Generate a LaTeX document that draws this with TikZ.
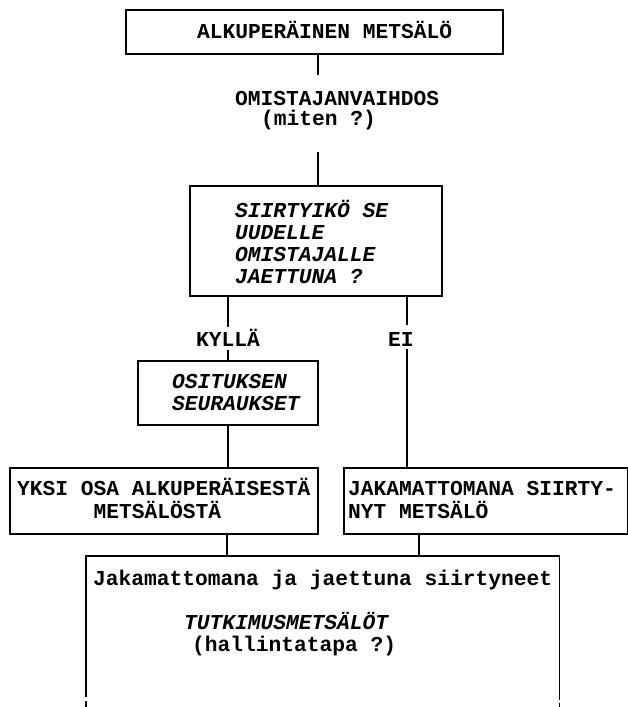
\documentclass[tikz,border=0pt]{standalone}
\usepackage{fontspec}
\usetikzlibrary{calc}
\newfontfamily\courfam{Liberation Mono}
\newcommand\mytw{\fontsize{21.25pt}{22pt}\selectfont\courfam\bfseries}
\tikzset{
  box/.style={draw, line width=1.6pt, inner sep=0pt, anchor=north west},
  frame/.style={inner sep=0pt, anchor=north west},
  conn/.style={line width=1.6pt},
  txt/.style={anchor=base west, inner sep=0pt, font=\mytw},
  itxt/.style={anchor=base west, inner sep=0pt, font=\mytw\itshape},
}
\begin{document}
\begin{tikzpicture}[x=1pt,y=-1pt]
\useasboundingbox (0,0) rectangle (628,707);
% boxes
\node[box, minimum width=377pt, minimum height=44pt] (top) at (125,9) {};
\node[box, minimum width=252pt, minimum height=110pt] (q) at (189,185) {};
\node[box, minimum width=180pt, minimum height=64pt] (b3) at (137,360) {};
\node[box, minimum width=308pt, minimum height=66pt] (b4) at (9,467) {};
\node[box, minimum width=284pt, minimum height=66pt] (b5) at (343,467) {};
\node[frame, minimum width=473pt, minimum height=151pt] (b6) at (86,556) {};
% texts
\node[txt] (t-top) at (197,38.5) {ALKUPERÄINEN METSÄLÖ};
\node[txt] (t-om1) at (235,105) {OMISTAJANVAIHDOS};
\node[txt] (t-om2) at (261,125) {(miten ?)};
\node[itxt] (t-q1) at (235,217) {SIIRTYIKÖ SE};
\node[itxt] (t-q2) at (235,239) {UUDELLE};
\node[itxt] (t-q3) at (235,261) {OMISTAJALLE};
\node[itxt] (t-q4) at (235,283) {JAETTUNA ?};
\node[txt] (t-kyl) at (196,346) {KYLLÄ};
\node[txt] (t-ei) at (388,346) {EI};
\node[itxt] (t-b31) at (172,388) {OSITUKSEN};
\node[itxt] (t-b32) at (172,410) {SEURAUKSET};
\node[txt] (t-b41) at (17,495) {YKSI OSA ALKUPERÄISESTÄ};
\node[txt] (t-b42) at (93.5,518) {METSÄLÖSTÄ};
\node[txt] (t-b51) at (348,495) {JAKAMATTOMANA SIIRTY-};
\node[txt] (t-b52) at (348,518) {NYT METSÄLÖ};
\node[txt] (t-b61) at (93,585) {Jakamattomana ja jaettuna siirtyneet};
\node[itxt] (t-b62) at (184,629) {TUTKIMUSMETSÄLÖT};
\node[txt] (t-b63) at (192,651) {(hallintatapa ?)};
% connector helper points
\coordinate (omtop) at (318,75);
\coordinate (ombot) at (318,152);
\coordinate (kytop) at (228,327);
\coordinate (kybot) at (228,350);
\coordinate (eitop) at (407,325);
\coordinate (eibot) at (407,349);
\coordinate (c4) at (227,0);
\coordinate (c5) at (419,0);
% connectors
\draw[conn] (top.south -| omtop) -- (omtop);
\draw[conn] (ombot) -- (q.north -| ombot);
\draw[conn] (q.south -| kytop) -- (kytop);
\draw[conn] (kybot) -- (b3.north -| kybot);
\draw[conn] (b3.south -| kybot) -- (b4.north -| kybot);
\draw[conn] (q.south -| eitop) -- (eitop);
\draw[conn] (eibot) -- (b5.north -| eibot);
\draw[conn] (b4.south -| c4) -- (b6.north -| c4);
\draw[conn] (b5.south -| c5) -- (b6.north -| c5);
% open bottom box
\draw[conn] ($(b6.south west)+(0,-10)$) -- (b6.north west) -- (b6.north east) -- ($(b6.south east)+(0,-7)$);
\draw[conn] ($(b6.south west)+(0,-6)$) -- (b6.south west);
\draw[conn] ($(b6.south east)+(0,-4)$) -- (b6.south east);
\end{tikzpicture}
\end{document}
